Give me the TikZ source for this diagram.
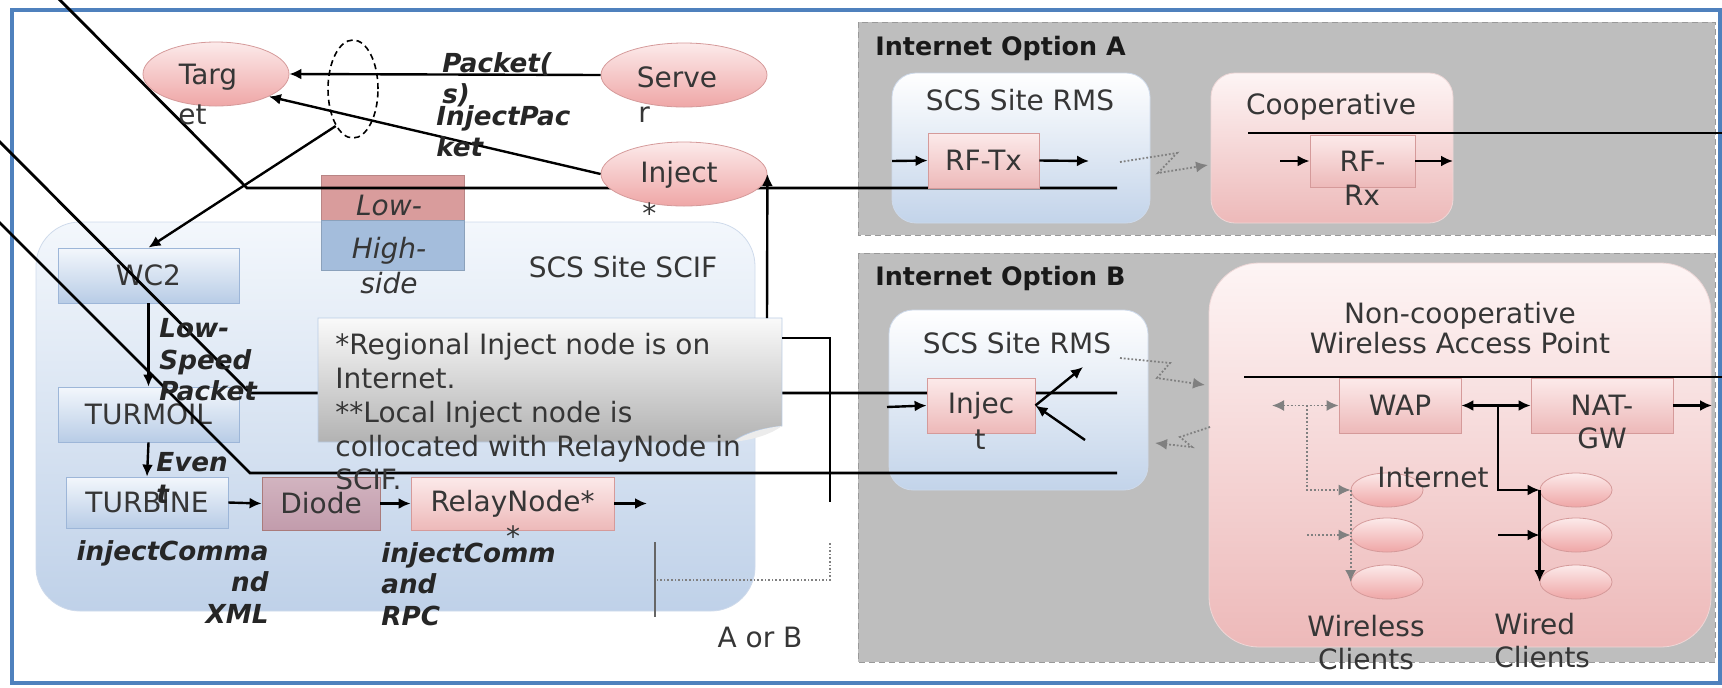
\documentclass[tikz,border=0pt]{standalone}
\usepackage{fontspec}
\setmainfont{DejaVu Sans}
\usetikzlibrary{arrows.meta}
\usetikzlibrary{calc}
\usetikzlibrary{shapes.geometric}

\definecolor{frameblue}{HTML}{4F81BD}
\definecolor{txtgray}{HTML}{363636}
\definecolor{optgray}{HTML}{BEBEBE}
\definecolor{blueTop}{HTML}{F3F7FC}
\definecolor{blueBot}{HTML}{B8CCE6}
\definecolor{blueEdge}{HTML}{9DB6D8}
\definecolor{pinkTop}{HTML}{FCEAEA}
\definecolor{pinkBot}{HTML}{EDB9B9}
\definecolor{pinkEdge}{HTML}{D59A9A}
\definecolor{lowred}{HTML}{D99C9C}
\definecolor{highblue}{HTML}{A4BDDC}
\definecolor{diodeTop}{HTML}{D2B4C0}
\definecolor{diodeBot}{HTML}{C29CAC}

\begin{document}
\begin{tikzpicture}[
    x=0.5pt, y=-0.5pt,
    >={Latex[length=6pt, width=5.5pt]},
    txt/.style={font=\fontsize{14}{17}\selectfont, text=txtgray, inner sep=0pt},
    bold label/.style={font=\fontsize{12.7}{15}\selectfont\bfseries, text=black!90, inner sep=0pt, anchor=west},
    flow label/.style={font=\fontsize{13.1}{15.75}\selectfont\bfseries\itshape, text=black!85, inner sep=0pt},
    side txt/.style={txt, font=\fontsize{14}{17.5}\selectfont\itshape},
    blue box/.style={txt, draw=blueEdge, top color=blueTop, bottom color=blueBot},
    pink box/.style={txt, draw=pinkEdge, top color=pinkTop, bottom color=pinkBot},
    diode box/.style={txt, draw=pinkEdge!80!black, top color=diodeTop, bottom color=diodeBot},
    pink ell/.style={ellipse, draw=pinkEdge, top color=pinkTop, bottom color=pinkBot!90!red, inner sep=0pt},
    client/.style={pink ell, minimum width=36pt, minimum height=17pt},
    blue site/.style={draw=blueEdge!50, top color=white, bottom color=blueBot!85, rounded corners=12pt},
    pink site/.style={draw=pinkEdge!40, top color=pinkTop!50!white, bottom color=pinkBot, rounded corners=12pt},
    opt panel/.style={fill=optgray, draw=black!40, densely dashed, line width=0.5pt},
    wire/.style={line width=1.4pt},
    arr/.style={->, line width=1.2pt},
    dbl arr/.style={<->, line width=1.2pt},
    radio/.style={->, densely dotted, line width=0.9pt, color=gray}
  ]
  \useasboundingbox (0,0) rectangle (1722,687);

  % frame and option panels
  \draw[frameblue, line width=2pt] (12,10) rectangle (1720,683);
  \draw[opt panel] (858,22) rectangle (1715,235);
  \draw[opt panel] (858,253) rectangle (1715,662);
  \node[bold label] (optA) at (875,48) {Internet Option A};
  \node[bold label] (optB) at (875,278) {Internet Option B};

  % sites
  \draw[blue site] (892,73) rectangle (1150,223);
  \draw[pink site] (1211,73) rectangle (1453,223);
  \draw[blue site] (889,310) rectangle (1148,490);
  \draw[pink site, rounded corners=25pt] (1209,263) rectangle (1711,647);
  \draw[blue site, top color=blueTop, bottom color=blueBot!90, rounded corners=22pt] (36,222) rectangle (755,611);
  \node[txt] (scif) at (623,267) {SCS Site SCIF};

  % low / high side key
  \node[draw=lowred!85!black, fill=lowred, minimum width=71.5pt, minimum height=22.5pt, inner sep=0pt] (lowkey) at (392.5,197.5) {};
  \node[draw=highblue!85!black, fill=highblue, minimum width=71.5pt, minimum height=25pt, inner sep=0pt] (highkey) at (392.5,245) {};

  % SCIF chain
  \node[blue box, minimum width=90.5pt, minimum height=27.5pt] (wc2) at (148.5,275.5) {WC2};
  \node[blue box, minimum width=90.5pt, minimum height=27.5pt] (turmoil) at (148.5,414.5) {TURMOIL};
  \node[blue box, minimum width=81pt, minimum height=25.5pt] (turbine) at (147,502.5) {TURBINE};
  \node[diode box, minimum width=59pt, minimum height=26.5pt] (diode) at (321,503.5) {Diode};
  \node[pink box, minimum width=101.5pt, minimum height=26.5pt] (relay) at (512.5,503.5) {RelayNode*};

  % long wires
  \coordinate (l1a) at (50,-10);  \coordinate (l1b) at (247,188); \coordinate (l1c) at (1117,188);
  \coordinate (l2a) at (-10,132); \coordinate (l2b) at (250,393); \coordinate (l2c) at (1117,393);
  \coordinate (l3a) at (-10,213); \coordinate (l3b) at (250,473); \coordinate (l3c) at (1117,473);
  \draw[wire] (l1a) -- (l1b) -- (l1c);
  \draw[wire] (l2a) -- (l2b) -- (l2c);
  \draw[wire] (l3a) -- (l3b) -- (l3c);
  \coordinate (wA1) at (1248,133); \coordinate (wA2) at (1730,133);
  \coordinate (wB1) at (1244,377); \coordinate (wB2) at (1730,377);
  \draw[wire] (wA1) -- (wA2);
  \draw[wire] (wB1) -- (wB2);

  % note
  \shade[top color=white!96!gray, bottom color=gray!60, draw=blueEdge!70]
    (318,318) -- (782,318) -- (782,426) .. controls (765,428) and (745,432) .. (733,442) -- (318,442) -- cycle;
  \fill[white!85!gray] (733,442) .. controls (748,432) and (765,428) .. (782,426) .. controls (768,436) and (750,440) .. (733,442);
  \node[txt, align=left, anchor=north west, font=\fontsize{14}{16.9}\selectfont] (note) at (335,333)
    {*Regional Inject node is on\\Internet.\\**Local Inject node is\\collocated with RelayNode in\\SCIF.};

  % hosts
  \node[pink ell, minimum width=73pt, minimum height=32pt] (tgt) at (216,74) {};
  \node[pink ell, minimum width=83pt, minimum height=32pt] (srv) at (684,75) {};
  \node[pink ell, minimum width=83pt, minimum height=32pt] (inj) at (684,174) {};
  \node[ellipse, draw, densely dashed, line width=0.8pt, minimum width=25pt, minimum height=49pt, inner sep=0pt] (tap) at (353,89) {};
  \node[txt] (tgtA) at (208,77) {Targ};
  \node[txt, anchor=west] (tgtB) at (178,115) {et};
  \node[txt] (srvA) at (677,77) {Serve};
  \node[txt, anchor=west] (srvB) at (638,115) {r};
  \node[txt] (injA) at (679,175) {Inject};
  \node[txt, anchor=west] (injB) at (642,213) {*};

  % option A
  \node[txt] (rmsA) at (1020,100) {SCS Site RMS};
  \node[pink box, minimum width=55.5pt, minimum height=27.5pt] (rftx) at (983.5,160.5) {RF-Tx};
  \node[txt] (coop) at (1331,107) {Cooperative};
  \node[pink box, minimum width=52.5pt, minimum height=26pt] (rfrx) at (1362.5,161) {RF-};
  \node[txt] (rfrxB) at (1362,195) {Rx};

  % option B
  \node[txt] (rmsB) at (1017,343) {SCS Site RMS};
  \node[pink box, minimum width=54pt, minimum height=27.5pt] (injb) at (981,405.5) {Injec};
  \node[txt] (injbB) at (980,440) {t};
  \node[txt, align=center, anchor=north, font=\fontsize{14}{15}\selectfont] (ncwap) at (1460,302)
    {Non-cooperative\\Wireless Access Point};
  \node[pink box, minimum width=61pt, minimum height=27.5pt] (wap) at (1400,405.5) {WAP};
  \node[pink box, minimum width=71pt, minimum height=27.5pt] (nat) at (1602,405.5) {NAT-};
  \node[txt] (natB) at (1602,438) {GW};
  \foreach \n/\y in {1/490, 2/535, 3/582} {
    \node[client] (wl\n) at (1387,\y) {};
    \node[client] (wd\n) at (1576,\y) {};
  }
  \node[txt] (inet) at (1433,477) {Internet};
  \node[txt, align=center, anchor=north, font=\fontsize{14}{16.5}\selectfont] (wllbl) at (1366,615) {Wireless\\Clients};
  \node[txt, align=left, anchor=north west, font=\fontsize{14}{16.5}\selectfont] (wdlbl) at (1494,613) {Wired\\Clients};

  % key texts
  \node[side txt] (lowtxt) at (389,205) {Low-};
  \node[side txt, align=center, anchor=north] (hightxt) at (389,237) {High-\\side};

  % flows, left
  \draw[arr] (srv.west) -- (tgt.east);
  \draw[arr] (inj.west) -- (tgt.-23);
  \draw[arr] (tap.-115) -- (wc2.north);
  \draw[arr] (wc2.south) -- (turmoil.north);
  \draw[arr] (turmoil.south) -- (turbine.north);
  \draw[arr] (turbine.east) -- (diode.west);
  \draw[arr] (diode.east) -- (relay.west);
  \coordinate (relayout) at (647,503.5);
  \draw[arr] (relay.east) -- (relayout);
  \node[txt] (relayB) at (513,536) {*};
  \coordinate (injfeed) at (767,318);
  \draw[arr] (injfeed) -- (inj.east);

  \node[flow label, align=left, anchor=north west] (pktlbl) at (442,52) {Packet(\\s)};
  \node[flow label, align=left, anchor=north west] (injlbl) at (436,105) {InjectPac\\ket};
  \node[flow label, align=left, anchor=north west] (lsplbl) at (159,318) {Low-\\Speed\\Packet};
  \node[flow label, align=left, anchor=north west] (evtlbl) at (156,452) {Even\\t};
  \node[flow label, align=right, anchor=north east] (xmllbl) at (269,540) {injectComma\\nd\\XML};
  \node[flow label, align=left, anchor=north west] (rpclbl) at (381,542) {injectComm\\and\\RPC};

  % A or B switch
  \coordinate (n1) at (782,338); \coordinate (n2) at (830,502);
  \draw[line width=1.2pt] (n1) -| (n2);
  \coordinate (ab1) at (830,543); \coordinate (ab2) at (655,580);
  \draw[gray, densely dotted, line width=0.8pt] (ab1) |- (ab2);
  \coordinate (ab3) at (655,542); \coordinate (ab4) at (655,617);
  \draw[black!60, line width=0.6pt] (ab3) -- (ab4);
  \node[txt] (aorb) at (760,637) {A or B};

  % flows, option A
  \coordinate (txin) at (892,161); \coordinate (txout) at (1089,161);
  \draw[arr] (txin) -- (rftx.west);
  \draw[arr] (rftx.east) -- (txout);
  \coordinate (zA) at (1120,162); \coordinate (zAend) at (1208,165);
  \draw[radio] (zA) -- ++(57,-9) -- ++(-19,20) -- (zAend);
  \coordinate (rxin) at (1280,161); \coordinate (rxout) at (1453,161);
  \draw[arr] (rxin) -- (rfrx.west);
  \draw[arr] (rfrx.east) -- (rxout);

  % flows, option B
  \coordinate (ibin) at (887,407); \coordinate (ibup) at (1083,367); \coordinate (ibback) at (1085,440);
  \draw[arr] (ibin) -- (injb.west);
  \draw[arr] (injb.east) -- (ibup);
  \draw[arr] (ibback) -- (injb.east);
  \coordinate (zB) at (1120,358); \coordinate (zBend) at (1205,385);
  \draw[radio] (zB) -- ++(50,5) -- ++(-13,15) -- (zBend);
  \coordinate (zC) at (1210,427); \coordinate (zCend) at (1155,443);
  \draw[radio] (zC) -- ++(-30,10) -- ++(12,10) -- (zCend);

  \coordinate (natout) at (1712,405.5);
  \draw[arr] (nat.east) -- (natout);
  \draw[dbl arr] (wap.east) -- (nat.west);
  \coordinate (wlfeed) at (1272,405.5);
  \draw[radio, <->] (wlfeed) -- (wap.west);

  % clients
  \coordinate (wdj) at (1498,405.5); \coordinate (wd2in) at (1498,535);
  \draw[arr] (wdj) |- (wd1.west);
  \draw[arr] (wd1.west) -- (wd3.west);
  \draw[arr] (wd2in) -- (wd2.west);
  \coordinate (wlj) at (1307,405.5); \coordinate (wl2in) at (1307,535);
  \draw[radio] (wlj) |- (wl1.west);
  \draw[radio] (wl1.west) -- (wl3.west);
  \draw[radio] (wl2in) -- (wl2.west);
\end{tikzpicture}
\end{document}
